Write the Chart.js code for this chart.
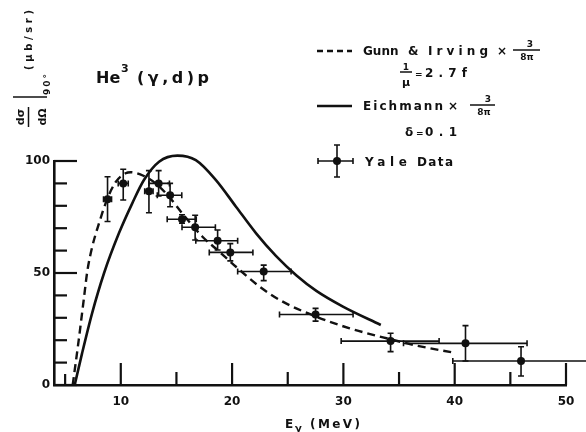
<!DOCTYPE html>
<html lang="en">
<head>
<meta charset="UTF-8">
<title>He3(gamma,d)p</title>
<script src="https://cdn.jsdelivr.net/npm/chart.js@4"></script>
<style>
  body { margin: 0; background: #fff; }
</style>
</head>
<body>
<canvas id="myChart" width="586" height="432"></canvas>
<script>
// Gunn & Irving x 3/8pi (dashed)
const gunnE = [5.68, 6.22, 6.67, 7.0, 7.45, 8.0, 8.78, 9.53, 10.43, 10.9, 12.08, 13.14, 14.34, 15.54, 17.34, 18.85, 20.35, 22.45, 24.55, 27.57, 30.57, 34.17, 36.58, 39.74]
const gunnY = [0, 20, 38, 51, 62, 71.5, 83, 90.5, 94.5, 95, 93.3, 90, 84, 76.5, 66.2, 59.5, 52.8, 44, 37.2, 30.5, 25.3, 20.5, 17.6, 14.6]

// Eichmann x 3/8pi (solid)
const eichE = [5.86, 6.52, 7.42, 8.5, 9.83, 11.03, 12.08, 13.44, 15.09, 16.74, 18.55, 20.35, 22.16, 23.96, 25.76, 27.57, 29.96, 33.36]
const eichY = [0, 14.1, 32, 50, 67.7, 81.1, 91.5, 99.7, 102.4, 100.4, 91.5, 79.6, 67.7, 57.5, 49, 42, 35, 26.8]

// Yale data with error bars
const yaleE   = [8.81, 10.22, 12.53, 13.4, 14.43, 15.5, 16.68, 18.7, 19.84, 22.84, 27.5, 34.24, 40.97, 45.96]
const yaleY   = [82.9, 90.0, 86.5, 90.0, 84.7, 74.0, 70.4, 64.4, 59.2, 50.7, 31.5, 19.6, 18.6, 10.7]
const yaleYlo = [73, 82.6, 76.9, 84.4, 79.6, 72.2, 64.7, 60.3, 55.4, 46.6, 28.5, 14.9, 10.7, 4.0]
const yaleYhi = [93, 96.3, 95.7, 95.7, 90.0, 76.0, 75.8, 69.2, 63.1, 53.5, 34.2, 23.1, 26.5, 17.1]
const yaleElo = [8.45, 9.77, 12.15, 12.53, 13.28, 14.17, 15.5, 16.74, 17.95, 20.5, 24.26, 29.8, 35.4, 39.83]
const yaleEhi = [9.17, 10.67, 12.9, 14.37, 15.48, 16.78, 18.5, 20.5, 21.87, 25.3, 30.87, 38.6, 46.5, 52.1]

const xTicks = [5, 10, 15, 20, 25, 30, 35, 40, 45, 50]
const xLabels = [10, 20, 30, 40, 50]
const yTicks = [0, 10, 20, 30, 40, 50, 60, 70, 80, 90, 100]
const yLabels = [0, 50, 100]

const ink = '#111'
const FONT = '"DejaVu Sans", sans-serif'

function pts(xs, ys) {
    return xs.map((x, i) => ({ x: x, y: ys[i] }))
}

// text with letter spacing stretched to a target width
function word(ctx, s, x, y, size, width, align) {
    ctx.font = 'bold ' + size + 'px ' + FONT
    ctx.letterSpacing = '0px'
    let sp = 0
    if (width && s.length > 1) {
        let w = ctx.measureText(s).width
        sp = Math.max(0, (width - w) / (s.length - 1))
    }
    ctx.letterSpacing = sp + 'px'
    let w2 = ctx.measureText(s).width - sp
    let x0 = x
    if (align === 'center') x0 = x - w2 / 2
    ctx.textAlign = 'left'
    ctx.fillText(s, x0, y)
    ctx.letterSpacing = '0px'
}

function line(ctx, x1, y1, x2, y2, lw) {
    ctx.lineWidth = lw
    ctx.beginPath()
    ctx.moveTo(x1, y1)
    ctx.lineTo(x2, y2)
    ctx.stroke()
}

function errCross(ctx, x, y, xl, xh, yl, yh) {
    ctx.lineWidth = 1.6
    ctx.beginPath()
    ctx.moveTo(x, yl); ctx.lineTo(x, yh)
    ctx.moveTo(x - 3, yl); ctx.lineTo(x + 3, yl)
    ctx.moveTo(x - 3, yh); ctx.lineTo(x + 3, yh)
    ctx.moveTo(xl, y); ctx.lineTo(xh, y)
    ctx.moveTo(xl, y - 3); ctx.lineTo(xl, y + 3)
    ctx.moveTo(xh, y - 3); ctx.lineTo(xh, y + 3)
    ctx.stroke()
}

const paperPlugin = {
    id: 'paper',
    afterDatasetsDraw(chart) {
        const ctx = chart.ctx
        const xs = chart.scales.x, ys = chart.scales.y
        ctx.save()
        ctx.strokeStyle = ink
        yaleE.forEach((e, i) => {
            errCross(ctx,
                xs.getPixelForValue(e), ys.getPixelForValue(yaleY[i]),
                xs.getPixelForValue(yaleElo[i]), xs.getPixelForValue(yaleEhi[i]),
                ys.getPixelForValue(yaleYlo[i]), ys.getPixelForValue(yaleYhi[i]))
        })
        ctx.restore()
    },
    afterDraw(chart) {
        const ctx = chart.ctx
        const xs = chart.scales.x, ys = chart.scales.y
        const a = chart.chartArea
        ctx.save()
        ctx.strokeStyle = ink
        ctx.fillStyle = ink

        // inward ticks
        ctx.lineCap = 'butt'
        yTicks.forEach(v => {
            let py = ys.getPixelForValue(v)
            let len = v % 50 === 0 ? 23 : 13
            line(ctx, a.left, py, a.left + len, py, 2.2)
        })
        xTicks.forEach(v => {
            let px = xs.getPixelForValue(v)
            let len = v % 10 === 0 ? 22 : (v === 5 ? 11 : 13)
            line(ctx, px, a.bottom, px, a.bottom - len, 2.2)
        })

        // title
        word(ctx, 'He', 96, 83, 16, 21)
        word(ctx, '3', 121, 72, 11)
        word(ctx, '(γ,d)p', 137, 83, 16, 72)

        // y axis title, rotated
        ctx.save()
        ctx.translate(0, 130)
        ctx.rotate(-Math.PI / 2)
        word(ctx, 'dσ', 13, 24, 11, 0, 'center')
        line(ctx, 3, 28.5, 23, 28.5, 1.5)
        word(ctx, 'dΩ', 13, 46, 11, 0, 'center')
        line(ctx, 33, 13, 33, 47, 1.6)
        word(ctx, '90°', 35, 50, 9, 21)
        word(ctx, '(μb/sr)', 60, 32, 10, 60)
        ctx.restore()

        // x axis title
        word(ctx, 'E', 285, 428, 12)
        word(ctx, 'γ', 295, 432, 10)
        word(ctx, '(MeV)', 310, 428, 12, 50)

        // legend: Gunn & Irving
        ctx.save()
        ctx.setLineDash([6, 4])
        line(ctx, 317, 51, 352, 51, 2.4)
        ctx.restore()
        word(ctx, 'Gunn', 363, 55, 12, 35)
        word(ctx, '&', 408, 55, 12)
        word(ctx, 'Irving', 428, 55, 12, 60)
        word(ctx, '×', 497, 55, 12)
        word(ctx, '3', 530, 47, 9, 0, 'center')
        line(ctx, 513, 50, 540, 50, 1.5)
        word(ctx, '8π', 527, 60, 9, 0, 'center')
        word(ctx, '1', 406, 70, 9, 0, 'center')
        line(ctx, 400, 72, 412, 72, 1.5)
        word(ctx, 'μ', 406, 86, 11, 0, 'center')
        word(ctx, '=', 415, 77, 9)
        word(ctx, '2.7f', 425, 77, 12, 42)

        // legend: Eichmann
        line(ctx, 317, 106, 352, 106, 2.6)
        word(ctx, 'Eichmann', 363, 110, 12, 80)
        word(ctx, '×', 448, 110, 12)
        word(ctx, '3', 488, 102, 9, 0, 'center')
        line(ctx, 470, 105, 495, 105, 1.5)
        word(ctx, '8π', 484, 115, 9, 0, 'center')
        word(ctx, 'δ', 405, 136, 12)
        word(ctx, '=', 416, 136, 9)
        word(ctx, '0.1', 425, 136, 12, 32)

        // legend: Yale data
        errCross(ctx, 337, 161, 318, 353, 145, 177)
        ctx.beginPath()
        ctx.arc(337, 161, 4, 0, Math.PI * 2)
        ctx.fill()
        word(ctx, 'Yale', 365, 166, 12, 42)
        word(ctx, 'Data', 417, 166, 12, 36)

        ctx.restore()
    }
}

let ctx = document.getElementById('myChart').getContext('2d')
let chart = new Chart(ctx, {
    type: 'scatter',
    data: {
        datasets: [{
            label: 'Gunn & Irving',
            data: pts(gunnE, gunnY),
            showLine: true,
            borderColor: ink,
            borderWidth: 2.4,
            borderDash: [8, 5],
            pointRadius: 0,
            cubicInterpolationMode: 'monotone',
            clip: false
        }, {
            label: 'Eichmann',
            data: pts(eichE, eichY),
            showLine: true,
            borderColor: ink,
            borderWidth: 2.6,
            pointRadius: 0,
            cubicInterpolationMode: 'monotone',
            clip: false
        }, {
            label: 'Yale Data',
            data: pts(yaleE, yaleY),
            showLine: false,
            pointRadius: 4,
            pointBackgroundColor: ink,
            pointBorderColor: ink,
            pointBorderWidth: 0,
            clip: false
        }]
    },
    options: {
        responsive: false,
        animation: false,
        layout: { padding: { top: 161, right: 20, left: 0, bottom: 0 } },
        plugins: {
            legend: { display: false },
            tooltip: { enabled: false }
        },
        scales: {
            x: {
                type: 'linear',
                min: 4,
                max: 50,
                afterBuildTicks: s => { s.ticks = xTicks.map(v => ({ value: v })) },
                afterFit: s => { s.height = 47 },
                grid: { drawOnChartArea: false, drawTicks: false },
                border: { color: ink, width: 2.6 },
                ticks: {
                    autoSkip: false,
                    maxRotation: 0,
                    padding: 10,
                    color: ink,
                    font: { family: FONT, size: 12, weight: 'bold' },
                    callback: v => xLabels.includes(v) ? String(v) : ''
                }
            },
            y: {
                min: 0,
                max: 100,
                afterBuildTicks: s => { s.ticks = yTicks.map(v => ({ value: v })) },
                afterFit: s => { s.width = 54 },
                grid: { drawOnChartArea: false, drawTicks: false },
                border: { color: ink, width: 2.6 },
                ticks: {
                    padding: 4,
                    color: ink,
                    font: { family: FONT, size: 12, weight: 'bold' },
                    callback: v => yLabels.includes(v) ? String(v) : ''
                }
            }
        }
    },
    plugins: [paperPlugin]
})
</script>
</body>
</html>
